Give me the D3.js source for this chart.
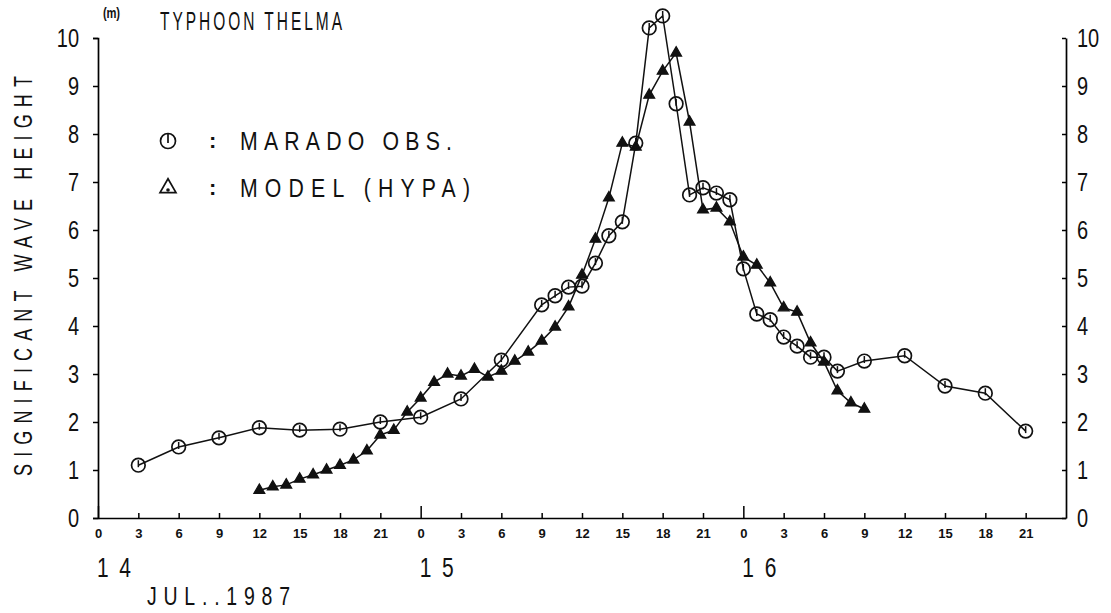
<!DOCTYPE html>
<html lang="en">
<head>
  <meta charset="UTF-8">
  <title>Typhoon Thelma</title>
  <style>
    body { margin: 0; background: #fff; }
    text { font-family: "Liberation Sans", "DejaVu Sans", sans-serif; fill: #111; }
  </style>
</head>
<body>

<svg id="chart" width="1111" height="613"></svg>

<script src="https://d3js.org/d3.v7.min.js"></script>

<script>

    // hours from 14 Jul 00h
    var obsHours = [3, 6, 9, 12, 15, 18, 21, 24, 27, 30,
      33, 34, 35, 36, 37, 38, 39, 40, 41, 42, 43, 44, 45, 46, 47,
      48, 49, 50, 51, 52, 53, 54, 55, 57, 60, 63, 66, 69];
    var obsHeight = [1.1, 1.48, 1.67, 1.88, 1.83, 1.85, 2.0, 2.1, 2.48, 3.29,
      4.44, 4.63, 4.81, 4.83, 5.31, 5.88, 6.17, 7.81, 10.21, 10.46, 8.63, 6.73, 6.88, 6.77, 6.63,
      5.19, 4.25, 4.13, 3.77, 3.58, 3.35, 3.35, 3.06, 3.27, 3.38, 2.75, 2.6, 1.81];

    var modelHours = [12, 13, 14, 15, 16, 17, 18, 19, 20, 21, 22, 23, 24, 25,
      26, 27, 28, 29, 30, 31, 32, 33, 34, 35, 36, 37, 38, 39, 40,
      41, 42, 43, 44, 45, 46, 47, 48, 49, 50, 51, 52, 53, 54, 55, 56, 57];
    var modelHeight = [0.58, 0.65, 0.69, 0.81, 0.9, 1.0, 1.1, 1.21, 1.4, 1.73, 1.83, 2.21, 2.5, 2.83,
      3.0, 2.96, 3.1, 2.94, 3.06, 3.27, 3.46, 3.69, 3.98, 4.4, 5.06, 5.81, 6.67, 7.81, 7.73,
      8.81, 9.31, 9.69, 8.25, 6.42, 6.46, 6.17, 5.44, 5.27, 4.9, 4.38, 4.29, 3.65, 3.25, 2.65, 2.4, 2.27];

    var yTicks = [0, 1, 2, 3, 4, 5, 6, 7, 8, 9, 10];
    var hourTicks = d3.range(0, 72, 3);
    var dayLabels = [{h: 0, t: "14"}, {h: 24, t: "15"}, {h: 48, t: "16"}];

    var svg = d3.select("#chart"),
    x = d3.scaleLinear().domain([0, 72]).range([98, 1066]),
    y = d3.scaleLinear().domain([0, 10]).range([518, 38]);

    var obs = obsHours.map(function (h, i) { return {h: h, v: obsHeight[i]}; });
    var model = modelHours.map(function (h, i) { return {h: h, v: modelHeight[i]}; });

    // plotter-like lettering: narrow glyphs spread out to a given width
    function label(px, py, size, len, txt, sq, rot) {
      var g = svg.append("g").attr("transform", "translate(" + px + "," + py + ")" + (rot ? " rotate(-90)" : "") + " scale(" + sq + ",1)");
      return g.append("text")
        .attr("textLength", len / sq).attr("lengthAdjust", "spacing")
        .style("font-size", size + "px").text(txt);
    }

    // axes
    var left = svg.append("g").attr("transform", "translate(" + x(0) + ",0)")
      .call(d3.axisLeft(y).tickValues(yTicks).tickSize(5).tickPadding(14).tickFormat(d3.format("d")));
    var right = svg.append("g").attr("transform", "translate(" + x(72) + ",0)")
      .call(d3.axisRight(y).tickValues(yTicks).tickSizeInner(-5).tickSizeOuter(0).tickPadding(11).tickFormat(d3.format("d")));
    var bottom = svg.append("g").attr("transform", "translate(0," + y(0) + ")")
      .call(d3.axisBottom(x).tickValues(hourTicks).tickSizeInner(-5).tickSizeOuter(0).tickPadding(11)
        .tickFormat(function (d) { return d % 24; }));

    [left, right].forEach(function (g) {
      g.selectAll("text").style("font-size", "25px")
        .attr("transform", "scale(0.8,1)")
        .attr("x", function () { return +d3.select(this).attr("x") / 0.8; });
      g.select(".domain").attr("stroke-width", 1.7);
    });
    left.selectAll(".tick line").attr("stroke-width", 1.5);
    right.selectAll(".tick line").attr("x2", -4).attr("stroke-width", 1.5);
    bottom.select(".domain").attr("stroke-width", 1.7);
    bottom.selectAll("text").style("font-size", "13px").style("font-weight", "bold");
    bottom.selectAll(".tick line").attr("stroke-width", 1.5)
      .attr("y2", function (d) { return d % 24 === 0 ? -12 : -5; });

    // day labels
    dayLabels.forEach(function (d) {
      label(x(d.h) - 1, 577, 28, 34, d.t, 0.75);
    });

    label(147, 605, 26, 143, "JUL..1987", 0.75);
    label(103, 18, 14, 17, "(m)", 0.8).style("font-weight", "bold");
    label(160, 30, 25, 182, "TYPHOON THELMA", 0.62);
    label(32, 476, 25, 400, "SIGNIFICANT WAVE HEIGHT", 0.72, true);

    // lines
    var line = d3.line().x(function (d) { return x(d.h); }).y(function (d) { return y(d.v); });

    svg.append("path").datum(model).attr("d", line)
      .attr("fill", "none").attr("stroke", "#111").attr("stroke-width", 1.5);
    svg.append("path").datum(obs).attr("d", line)
      .attr("fill", "none").attr("stroke", "#111").attr("stroke-width", 1.5);

    var tri = d3.symbol().type(d3.symbolTriangle).size(50);

    function drawTriangle(g) {
      g.append("path").attr("d", tri)
        .attr("fill", "#111").attr("stroke", "#111").attr("stroke-width", 1.3);
    }

    function drawCircle(g) {
      g.append("circle").attr("r", 6.8).attr("fill", "none")
        .attr("stroke", "#111").attr("stroke-width", 1.7);
      g.append("line").attr("y1", -5).attr("y2", 2).attr("stroke", "#111").attr("stroke-width", 1.5);
    }

    svg.selectAll(".tri").data(model).enter().append("g")
      .attr("transform", function (d) { return "translate(" + x(d.h) + "," + y(d.v) + ")"; })
      .each(function () { drawTriangle(d3.select(this)); });

    svg.selectAll(".obs").data(obs).enter().append("g")
      .attr("transform", function (d) { return "translate(" + x(d.h) + "," + y(d.v) + ")"; })
      .each(function () { drawCircle(d3.select(this)); });

    // legend
    var legend = [{label: "MARADO OBS.", type: "obs", len: 212},
                  {label: "MODEL (HYPA)", type: "model", len: 230}];
    legend.forEach(function (d, i) {
      var ly = 141 + i * 47;
      var g = svg.append("g").attr("transform", "translate(168," + ly + ")");
      if (d.type === "obs") {
        g.append("circle").attr("r", 7.5).attr("fill", "none").attr("stroke", "#111").attr("stroke-width", 1.7);
        g.append("line").attr("y1", -7).attr("y2", 2).attr("stroke", "#111").attr("stroke-width", 1.7);
      } else {
        g.append("path").attr("d", d3.symbol().type(d3.symbolTriangle).size(110))
          .attr("fill", "none").attr("stroke", "#111").attr("stroke-width", 1.7);
        g.append("circle").attr("r", 1.8).attr("cy", 2).attr("fill", "#111");
      }
      svg.append("text").attr("x", 209).attr("y", ly + 7).style("font-size", "22px").style("font-weight", "bold").text(":");
      label(240, ly + 9, 25, d.len, d.label, 0.85);
    });

</script>

</body>
</html>
